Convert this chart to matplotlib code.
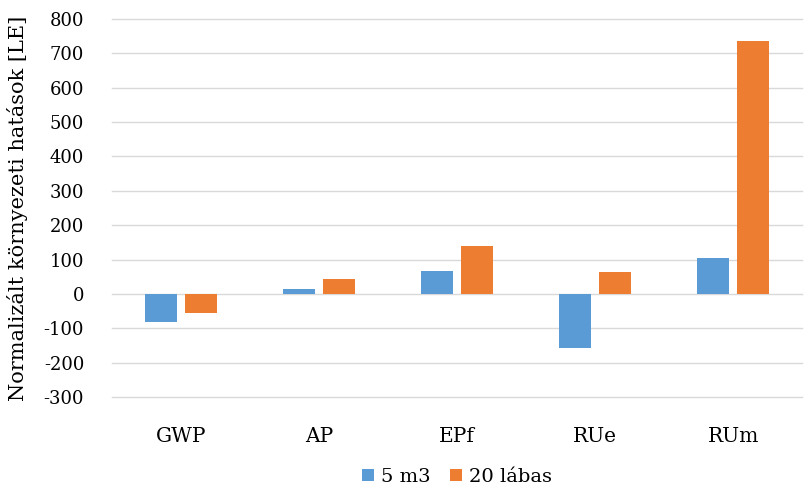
import numpy as np
import matplotlib.pyplot as plt

categories = ["GWP", "AP", "EPf", "RUe", "RUm"]
small_tank = [-82, 15, 67, -158, 105]
container_20ft = [-55, 43, 140, 64, 736]
series_names = ["5 m3", "20 lábas"]

plt.rcParams['font.family'] = ['DejaVu Serif']
plt.rcParams['axes.unicode_minus'] = False


def main():
    fig = plt.figure(figsize=(8.11, 4.9), dpi=100)
    ax = fig.add_axes([0.138, 0.190, 0.851, 0.771])

    x = np.arange(len(categories))
    w = 0.23
    ax.bar(x - 0.145, small_tank, w, color="#5B9BD5", label=series_names[0], zorder=3)
    ax.bar(x + 0.145, container_20ft, w, color="#ED7D31", label=series_names[1], zorder=3)

    ax.set_xlim(-0.5, len(categories) - 0.5)
    ax.set_ylim(-300, 800)
    ax.set_yticks(np.arange(-300, 801, 100))
    ax.set_xticks(x)
    ax.set_xticklabels(categories)
    ax.grid(axis="y", color="#D9D9D9", linewidth=1.0, zorder=0)
    for gl in ax.get_ygridlines():
        gl.set_clip_on(False)
    for s in ax.spines.values():
        s.set_visible(False)
    ax.tick_params(axis="y", length=0, labelsize=13, colors="#000000", pad=20)
    ax.tick_params(axis="x", length=0, labelsize=14.5, colors="#000000", pad=22)
    ax.set_ylabel("Normalizált környezeti hatások [LE]", fontsize=15, labelpad=11)

    ax.legend(loc="upper center", bbox_to_anchor=(0.5, -0.168), ncol=2, frameon=False,
              fontsize=14, handlelength=0.6, handleheight=0.6, handletextpad=0.35,
              columnspacing=1.0, borderaxespad=0)

    fig.savefig("out.png", dpi=100)


if __name__ == "__main__":
    main()
